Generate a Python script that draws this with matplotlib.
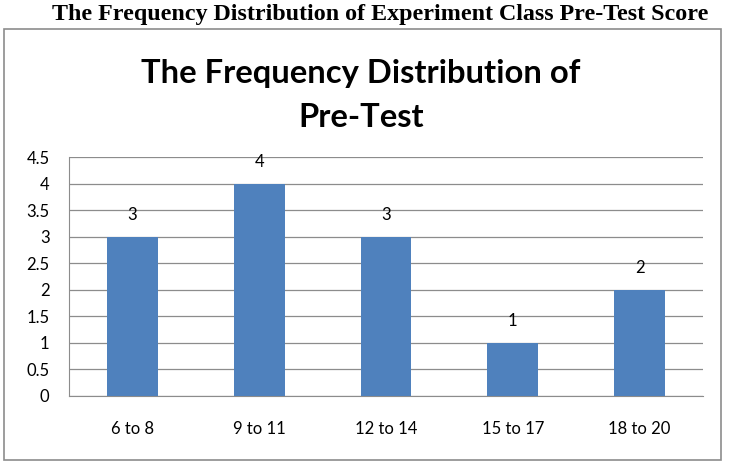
import matplotlib.pyplot as plt
from matplotlib.patches import Rectangle

categories = ["6 to 8", "9 to 11", "12 to 14", "15 to 17", "18 to 20"]
frequency = [3, 4, 3, 1, 2]
y_ticks = [0, 0.5, 1, 1.5, 2, 2.5, 3, 3.5, 4, 4.5]
y_tick_labels = ["0", "0.5", "1", "1.5", "2", "2.5", "3", "3.5", "4", "4.5"]
title_lines = ["The Frequency Distribution of", "Pre-Test"]

fig = plt.figure(figsize=(7.29, 4.68), dpi=100)

# outer caption above the chart box
fig.text(0.521, 0.968, "The Frequency Distribution of Experiment Class Pre-Test Score",
         ha="center", va="center", fontsize=17.3, fontweight="bold",
         family="Liberation Serif")

# chart frame
fig.patches.append(Rectangle((4 / 729, 1 - 460 / 468), 717 / 729, 431 / 468,
                             transform=fig.transFigure, fill=False,
                             edgecolor="#8c8c8c", linewidth=1.2))

# chart title, two lines placed on their baselines
for line, base in zip(title_lines, [1 - 83 / 468, 1 - 127 / 468]):
    fig.text(0.495, base, line, ha="center", va="baseline", fontsize=23.6,
             fontweight="bold", family="Lato")

ax = fig.add_axes([69 / 729, 72 / 468, 634 / 729, 239 / 468])
x = range(len(categories))
ax.bar(x, frequency, width=0.4, color="#4F81BD", zorder=3)
for xi, v in zip(x, frequency):
    ax.text(xi, v + 0.41, str(v), ha="center", va="center", fontsize=12,
            family="Lato")

ax.set_xlim(-0.5, len(categories) - 0.5)
ax.set_ylim(0, 4.5)
ax.set_yticks(y_ticks)
ax.set_yticklabels(y_tick_labels, family="Lato", fontsize=12)
ax.set_xticks(list(x))
ax.set_xticklabels(categories, family="Lato", fontsize=12)
ax.tick_params(axis="y", length=0, pad=14)
ax.tick_params(axis="x", length=0, pad=18)
ax.yaxis.grid(True, color="#8c8c8c", linewidth=0.9, zorder=0)
for side in ["top", "right"]:
    ax.spines[side].set_visible(False)
for side in ["left", "bottom"]:
    ax.spines[side].set_color("#8c8c8c")

fig.savefig("out.png", dpi=100)
